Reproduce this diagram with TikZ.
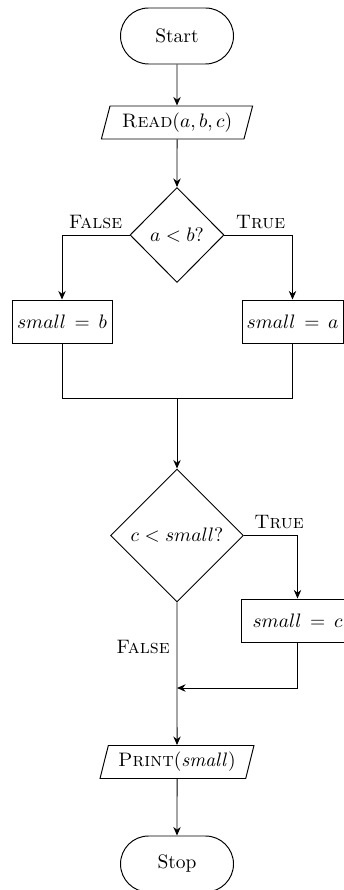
\documentclass[tikz,border=0pt]{standalone}
\usetikzlibrary{shapes.geometric,shapes.misc,arrows.meta}
\begin{document}
\begin{tikzpicture}[x=0.513pt,y=-0.513pt,
  base/.style={draw, line width=0.5pt, inner sep=0pt},
  term/.style={base, rounded rectangle, minimum width=113*0.513pt, minimum height=56*0.513pt},
  io/.style={base, trapezium, trapezium left angle=70, trapezium right angle=110, trapezium stretches=true, minimum width=152*0.513pt, minimum height=33*0.513pt},
  proc/.style={base, rectangle, minimum height=43*0.513pt},
  dec/.style={base, diamond},
  lbl/.style={inner sep=0pt},
  arr/.style={line width=0.5pt, -{Stealth[length=4.4pt,width=3.8pt]}},
  ln/.style={line width=0.5pt}]
\useasboundingbox (0,0) rectangle (344,890);
\node[term] (start) at (177,36) {Start};
\node[io] (read) at (177,122.5) {\textsc{Read}$(a,b,c)$};
\node[dec, minimum width=94*0.513pt, minimum height=95*0.513pt] (d1) at (177,235) {$a<b?$};
\node[proc, minimum width=100*0.513pt] (lb) at (62,321.5) {$small\,=\,b$};
\node[proc, minimum width=101*0.513pt] (rb) at (292.5,321.5) {$small\,=\,a$};
\coordinate (j1) at (177,398);
\node[dec, minimum width=133*0.513pt, minimum height=133*0.513pt] (d2) at (177,535.5) {$c<small?$};
\node[proc, minimum width=112*0.513pt] (cb) at (297.5,620.5) {$small\,=\,c$};
\coordinate (j2) at (177,688);
\node[io, minimum width=155*0.513pt] (print) at (177,762) {\textsc{Print}$(\mathit{small})$};
\node[term] (stop) at (177,864) {Stop};
\node[lbl] (f1) at (95.5,222) {\textsc{False}};
\node[lbl] (t1) at (260.5,222) {\textsc{True}};
\node[lbl] (t2) at (279,522) {\textsc{True}};
\node[lbl] (f2) at (143,647) {\textsc{False}};
\draw[arr] (start) -- (read);
\draw[arr] (read) -- (d1);
\draw[arr] (d1.west) -| (lb.north);
\draw[arr] (d1.east) -| (rb.north);
\draw[ln] (lb.south) -- (lb.south |- j1) -- (rb.south |- j1) -- (rb.south);
\draw[arr] (j1) -- (d2.north);
\draw[arr] (d2.east) -| (cb.north);
\draw[arr] (cb.south) |- (j2);
\draw[arr] (d2.south) -- (print.north);
\draw[arr] (print) -- (stop);
\end{tikzpicture}
\end{document}
